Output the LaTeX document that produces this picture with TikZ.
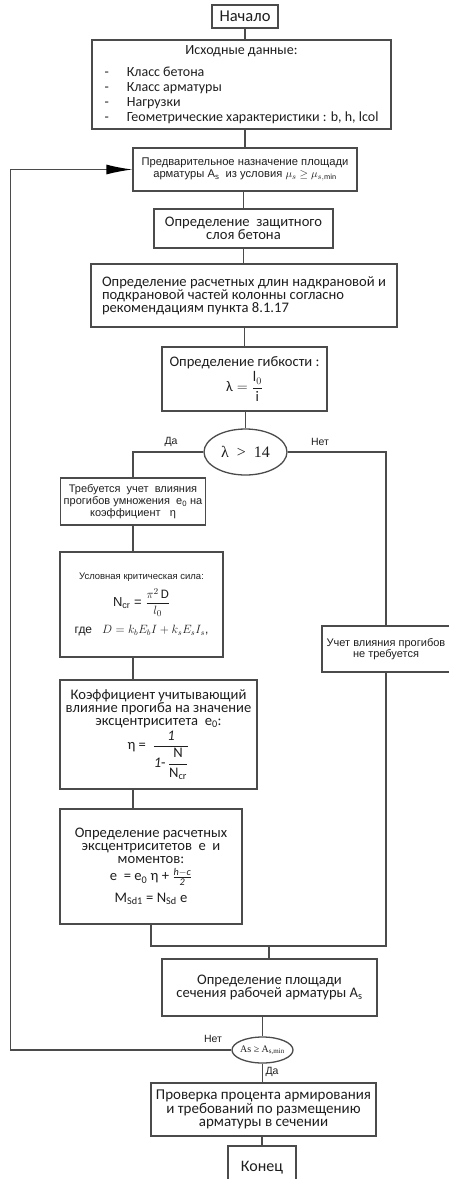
\documentclass[tikz,border=0pt]{standalone}
\usepackage{fontspec}
\usepackage{amsmath}
\usetikzlibrary{shapes.geometric,arrows.meta}
\setmainfont{Carlito}
\newfontfamily\arialfont{Liberation Sans}
\newfontfamily\timesfont{Liberation Serif}
\definecolor{mline}{RGB}{75,75,75}
\definecolor{mtext}{RGB}{30,30,30}

\begin{document}
\begin{tikzpicture}[
    x=1pt, y=-1pt,
    node_box/.style={rectangle, draw=mline, line width=1.3pt, text=mtext, inner sep=2pt, align=center, font=\fontsize{14.6}{13}\selectfont},
    node_arial/.style={node_box, font=\arialfont\fontsize{11}{11.7}\selectfont},
    node_cond/.style={ellipse, draw=mline, line width=1.3pt, inner sep=0pt, text=mtext},
    node_label/.style={text=mtext, font=\arialfont\fontsize{10.5}{12}\selectfont, inner sep=0pt},
    arrow_flow/.style={draw=mline, line width=1.3pt},
    arrow_loop/.style={arrow_flow, -{Latex[length=26pt,width=10pt,black]}},
    ]
\useasboundingbox (0,0) rectangle (449,1179);

% main column
\node[node_box, minimum width=66pt, minimum height=23pt, font=\fontsize{16.5}{16}\selectfont] (start) at (245,16.5) {Начало};
\node[node_box, minimum width=299pt, minimum height=89pt, font=\fontsize{14}{15}\selectfont] (input) at (241.5,84.5) {%
  \begin{tabular}{@{}l@{\hspace{18pt}}l@{}}
  \multicolumn{2}{c}{Исходные данные:}\\[7pt]
  - & Класс бетона\\
  - & Класс арматуры\\
  - & Нагрузки\\
  - & Геометрические характеристики : b, h, lcol
  \end{tabular}};
\node[node_arial, minimum width=224pt, minimum height=43pt, font=\arialfont\fontsize{11.2}{12}\selectfont] (prelim) at (245,169.5) {Предварительное назначение площади\\арматуры A\textsubscript{s}\ \ из условия $\mu_s \geq \mu_{s,\min}$};
\node[node_box, minimum width=179pt, minimum height=39pt] (cover) at (243.5,228.5) {Определение\ \ защитного\\слоя бетона};
\node[node_box, minimum width=306pt, minimum height=63pt, align=left] (lengths) at (244,295.5) {Определение расчетных длин надкрановой и\\подкрановой частей колонны согласно\\рекомендациям пункта 8.1.17};
\node[node_box, minimum width=165pt, minimum height=64pt] (slender) at (244.5,379) {Определение гибкости :\\[2pt] $\text{λ} = \dfrac{\text{l}_0}{\text{i}}$};
\node[node_cond, minimum width=83pt, minimum height=46pt, font=\timesfont\fontsize{16}{16}\selectfont] (cond1) at (245.5,452) {λ\ \ >\ \ 14};

% left branch
\node[node_arial, minimum width=145pt, minimum height=47pt] (need) at (133,501.5) {Требуется\ \ учет\ \ влияния\\прогибов умножения\ \ e\textsubscript{0} на\\коэффициент\ \ \ η};
\node[node_arial, minimum width=163pt, minimum height=105pt, font=\arialfont\fontsize{9.5}{11}\selectfont] (ncr) at (141.5,604.5) {Условная критическая сила:\\[6pt] {\fontsize{13}{13}\selectfont N\textsubscript{cr} = $\dfrac{\pi^2\,\mathrm{D}}{l_0}$}\\[8pt] {\fontsize{12}{12}\selectfont где\ \ \ $D = k_b E_b I + k_s E_s I_s$,}};
\node[node_box, minimum width=197pt, minimum height=109pt] (eta) at (158.5,734.5) {Коэффициент учитывающий\\влияние прогиба на значение\\эксцентриситета\ \ e\textsubscript{0}:\\[2pt] η\ =\ \ $\dfrac{\mathit{1}}{\mathit{1}\text{-}\,\dfrac{\text{N}}{\text{N}_{\text{cr}}}}$};
\node[node_box, minimum width=182pt, minimum height=115pt] (ecc) at (151,866.5) {Определение расчетных\\эксцентриситетов\ \ e\ \ и\\моментов:\\[4pt] e\ \ = e\textsubscript{0} η + $\frac{\mathit{h-c}}{\mathit{2}}$\\[6pt] M\textsubscript{Sd1} = N\textsubscript{Sd} e};

% right branch
\node[node_arial, minimum width=128pt, minimum height=46pt] (noneed) at (386,649) {Учет влияния прогибов\\не требуется};

% bottom part
\node[node_box, minimum width=215pt, minimum height=57pt] (area) at (269.5,987.5) {Определение площади\\сечения рабочей арматуры A\textsubscript{s}};
\node[node_cond, minimum width=61pt, minimum height=26pt, font=\timesfont\fontsize{10}{10}\selectfont] (cond2) at (262.5,1050) {\makebox[30pt][c]{As ≥ A\textsubscript{s,min}}};
\node[node_box, minimum width=225pt, minimum height=53pt, font=\fontsize{15}{13.7}\selectfont] (check) at (263.5,1109.5) {Проверка процента армирования\\и требований по размещению\\арматуры в сечении};
\node[node_box, minimum width=68pt, minimum height=44pt, font=\fontsize{16}{16}\selectfont] (end) at (262,1168) {Конец};

\node[node_label] (yes1) at (171,442) {Да};
\node[node_label] (no1) at (320,442) {Нет};
\node[node_label] (no2) at (213,1039) {Нет};
\node[node_label] (yes2) at (272,1072) {Да};

\draw[arrow_flow] (start.south) -- (start.south |- input.north);
\draw[arrow_flow] (prelim.north |- input.south) -- (prelim.north);
\draw[arrow_flow] (cover.north |- prelim.south) -- (cover.north);
\draw[arrow_flow] (cover.south) -- (cover.south |- lengths.north);
\draw[arrow_flow] (slender.north |- lengths.south) -- (slender.north);
\draw[arrow_flow] (cond1.north |- slender.south) -- (cond1.north);
\draw[arrow_flow] (cond1.west) -| (need.north);
\draw[arrow_flow] (cond1.east) -| (noneed.north);
\draw[arrow_flow] (need.south) -- (need.south |- ncr.north);
\draw[arrow_flow] (ncr.south -| need.south) -- (eta.north -| need.south);
\draw[arrow_flow] (eta.south -| need.south) -- (ecc.north -| need.south);
\coordinate (join) at (269,946);
\draw[arrow_flow] (ecc.south) |- (join) -| (noneed.south);
\draw[arrow_flow] (join) -- (join |- area.north);
\draw[arrow_flow] (cond2.north |- area.south) -- (cond2.north);
\draw[arrow_flow] (cond2.south) -- (cond2.south |- check.north);
\draw[arrow_flow] (end.north |- check.south) -- (end.north);
\draw[arrow_loop] (cond2.west) -| ([xshift=-122pt]prelim.west) -- (prelim.west);

\end{tikzpicture}
\end{document}
